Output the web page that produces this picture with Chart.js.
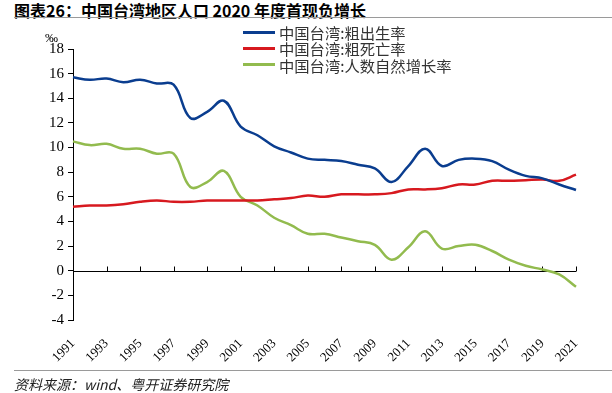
<!DOCTYPE html>
<html lang="zh-CN">
<head>
  <meta charset="UTF-8" />
  <title>图表26</title>
  <script src="https://cdn.jsdelivr.net/npm/chart.js"></script>
  <style>
    body { margin: 0; width: 612px; height: 393px; background: #fff; position: relative; overflow: hidden; font-family: "Noto Sans CJK SC", "Noto Sans", sans-serif; }
    #chart { position: absolute; left: 0; top: 0; }
    .title { position: absolute; left: 14px; top: -2px; font-size: 16px; font-weight: bold; color: #000; white-space: nowrap; }
    .rule { position: absolute; left: 14px; right: 0; height: 1px; background: #9a9a9a; }
    .source { position: absolute; left: 14px; top: 374px; font-size: 14px; font-style: italic; color: #222; white-space: nowrap; }
    .unit { position: absolute; left: 45px; top: 30px; font-family: "Liberation Serif", serif; font-size: 13px; }
    #legend { position: absolute; left: 243px; top: 24px; }
    #legend div { height: 16.3px; display: flex; align-items: center; font-size: 15.3px; color: #333; white-space: nowrap; }
    #legend span.sw { display: inline-block; width: 32px; height: 3px; margin-right: 4px; }
  </style>
</head>
<body>
  <div class="title">图表26：中国台湾地区人口 2020 年度首现负增长</div>
  <div class="rule" style="top:17px"></div>
  <canvas id="chart" width="612" height="393"></canvas>
  <div class="unit">‰</div>
  <div id="legend"></div>
  <div class="rule" style="top:370px"></div>
  <div class="source">资料来源：wind、粤开证券研究院</div>

  <script>
    const years = ["1991","1992","1993","1994","1995","1996","1997","1998","1999","2000",
                   "2001","2002","2003","2004","2005","2006","2007","2008","2009","2010",
                   "2011","2012","2013","2014","2015","2016","2017","2018","2019","2020","2021"];
    const seriesNames = ["中国台湾:粗出生率", "中国台湾:粗死亡率", "中国台湾:人数自然增长率"];
    const birthRate = [15.7,15.5,15.6,15.3,15.5,15.2,15.1,12.4,12.9,13.8,11.7,11.0,10.1,9.6,9.1,9.0,8.9,8.6,8.3,7.2,8.5,9.9,8.5,9.0,9.1,8.9,8.2,7.7,7.5,7.0,6.55];
    const deathRate = [5.2,5.3,5.3,5.4,5.6,5.7,5.6,5.6,5.7,5.7,5.7,5.7,5.8,5.9,6.1,6.0,6.2,6.2,6.2,6.3,6.6,6.6,6.7,7.0,7.0,7.3,7.3,7.35,7.4,7.3,7.8];
    const naturalRate = [10.5,10.2,10.3,9.9,9.9,9.5,9.5,6.8,7.2,8.1,6.0,5.3,4.3,3.7,3.0,3.0,2.7,2.4,2.1,0.9,1.9,3.2,1.8,2.0,2.1,1.6,0.9,0.4,0.1,-0.3,-1.3];
    const colors = ["#0a3d8f", "#d7191f", "#92bb4e"];

    // legend as plain html
    const lg = document.getElementById("legend");
    seriesNames.forEach((n, i) => {
      const row = document.createElement("div");
      row.innerHTML = `<span class="sw" style="background:${colors[i]}"></span>${n}`;
      lg.appendChild(row);
    });

    // zero line with inside tick marks on every labelled year
    const zeroAxis = {
      id: "zeroAxis",
      beforeDatasetsDraw(chart) {
        const { ctx, chartArea, scales } = chart;
        const y0 = Math.round(scales.y.getPixelForValue(0)) + 0.5;
        ctx.save();
        ctx.strokeStyle = "#000";
        ctx.lineWidth = 1;
        ctx.beginPath();
        ctx.moveTo(chartArea.left, y0);
        ctx.lineTo(chartArea.right, y0);
        years.forEach((yr, i) => {
          if (i % 2 !== 0) return;
          const x = Math.round(scales.x.getPixelForValue(i)) + 0.5;
          ctx.moveTo(x, y0);
          ctx.lineTo(x, y0 - 5);
        });
        ctx.stroke();
        ctx.restore();
      }
    };

    const mkSet = (i, data) => ({
      label: seriesNames[i],
      data: data,
      borderColor: colors[i],
      borderWidth: 2.5,
      pointRadius: 0,
      tension: 0.4,
      fill: false
    });

    new Chart(document.getElementById("chart"), {
      type: "line",
      data: {
        labels: years,
        datasets: [mkSet(0, birthRate), mkSet(1, deathRate), mkSet(2, naturalRate)]
      },
      options: {
        responsive: false,
        animation: false,
        layout: { padding: { left: 0, right: 36, top: 49, bottom: 0 } },
        plugins: { legend: { display: false }, tooltip: { enabled: false } },
        scales: {
          x: {
            offset: false,
            grid: { display: false },
            border: { display: false },
            afterFit: s => { s.height = 73; },
            ticks: {
              autoSkip: false,
              maxRotation: 45,
              minRotation: 45,
              padding: 8,
              color: "#000",
              font: { family: "Liberation Serif", size: 13 },
              callback: (v, i) => (i % 2 === 0 ? years[i] : "")
            }
          },
          y: {
            min: -4,
            max: 18,
            afterFit: s => { s.width = 73; },
            border: { display: true, color: "#000", width: 1 },
            grid: { drawOnChartArea: false, drawTicks: true, tickLength: 5, tickColor: "#000" },
            ticks: {
              stepSize: 2,
              padding: 4,
              color: "#000",
              font: { family: "Liberation Serif", size: 15 }
            }
          }
        }
      },
      plugins: [zeroAxis]
    });
  </script>
</body>
</html>
